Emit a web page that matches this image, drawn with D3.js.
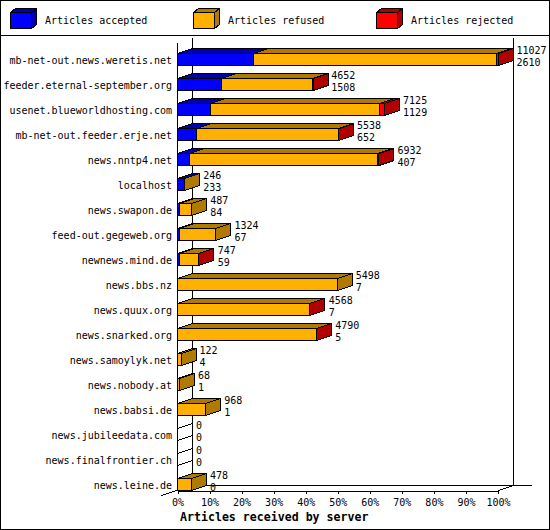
<!DOCTYPE html>
<html><head><meta charset="utf-8">
<script src="https://cdn.jsdelivr.net/npm/d3@7"></script>
<style>
body{margin:0;background:#fff}
svg{display:block}
text{font-family:"DejaVu Sans Mono","Liberation Mono",monospace;font-size:10px;fill:#000}
</style>
</head><body><div id="chart"></div>
<script>
// ---------- data ----------
const servers = [
  "mb-net-out.news.weretis.net","feeder.eternal-september.org","usenet.blueworldhosting.com",
  "mb-net-out.feeder.erje.net","news.nntp4.net","localhost","news.swapon.de","feed-out.gegeweb.org",
  "newnews.mind.de","news.bbs.nz","news.quux.org","news.snarked.org","news.samoylyk.net",
  "news.nobody.at","news.babsi.de","news.jubileedata.com","news.finalfrontier.ch","news.leine.de"
];
const totals   = [11027,4652,7125,5538,6932,246,487,1324,747,5498,4568,4790,122,68,968,0,0,478];
const accepted = [2610,1508,1129,652,407,233,84,67,59,7,7,5,4,1,1,0,0,0];
const refused  = [8357,3124,5806,4871,6475,13,403,1257,678,5491,4549,4775,118,67,967,0,0,478];
const rejected = [60,20,190,15,50,0,0,0,10,0,12,10,0,0,0,0,0,0];
const seriesNames  = ["Articles accepted","Articles refused","Articles rejected"];
const seriesColors = ["#0000ff","#ffb000","#ff0000"];
const seriesDark   = ["#0000b0","#b07a00","#b00000"];
const tickValues = [0,0.1,0.2,0.3,0.4,0.5,0.6,0.7,0.8,0.9,1];
const axisTitle = "Articles received by server";

// ---------- layout ----------
const W = 550, H = 530;
const DX = 15, DY = 5;
const svg = d3.select("#chart").append("svg")
  .attr("width", W).attr("height", H)
  .attr("shape-rendering", "crispEdges");

svg.append("rect").attr("x", 0.5).attr("y", 0.5).attr("width", W - 1).attr("height", H - 1)
  .attr("fill", "#fff").attr("stroke", "#000");
svg.append("line").attr("x1", 0).attr("x2", W).attr("y1", 35.5).attr("y2", 35.5).attr("stroke", "#000");

// legend
const leg = svg.append("g");
seriesNames.forEach((name, k) => {
  const fx = 10.5 + 183 * k, fy = 12.5, fw = 21, fh = 16, ldx = 5, ldy = 4;
  leg.append("polygon").attr("points", [[fx, fy], [fx + ldx, fy - ldy], [fx + fw + ldx, fy - ldy], [fx + fw, fy]].join(" "))
    .attr("fill", seriesDark[k]).attr("stroke", "#000");
  leg.append("polygon").attr("points", [[fx + fw, fy], [fx + fw + ldx, fy - ldy], [fx + fw + ldx, fy + fh - ldy], [fx + fw, fy + fh]].join(" "))
    .attr("fill", seriesDark[k]).attr("stroke", "#000");
  leg.append("rect").attr("x", fx).attr("y", fy).attr("width", fw).attr("height", fh)
    .attr("fill", seriesColors[k]).attr("stroke", "#000");
  leg.append("text").attr("x", fx + 34.5).attr("y", 24).text(name);
});

const maxTotal = d3.max(totals);
const x = d3.scaleLinear().domain([0, 1]).range([177, 497.5]);
const y = d3.scaleBand().domain(servers).range([53, 490]).paddingInner(0.52).paddingOuter(0);
const px = v => Math.round(v) + 0.5;

const x0 = px(x(0)), xEnd = px(x(1));
const floorY = 490.5, backFloorY = floorY - DY;

// walls / frame
const frame = svg.append("g").attr("stroke", "#000").attr("fill", "none");
frame.append("line").attr("x1", x0 + DX).attr("x2", x0 + DX).attr("y1", 38).attr("y2", backFloorY);
frame.append("line").attr("x1", xEnd + DX).attr("x2", xEnd + DX).attr("y1", 38).attr("y2", backFloorY);
frame.append("line").attr("x1", x0).attr("x2", x0).attr("y1", 43).attr("y2", floorY);
frame.append("line").attr("x1", x0 + DX).attr("x2", 532).attr("y1", backFloorY).attr("y2", backFloorY);
frame.append("line").attr("x1", x0 - 16).attr("y1", floorY + 5).attr("x2", x0 + DX).attr("y2", backFloorY);
frame.append("line").attr("x1", xEnd).attr("y1", floorY).attr("x2", xEnd + DX).attr("y2", backFloorY);

// x axis (front floor edge)
const axis = d3.axisBottom(x).tickValues(tickValues).tickFormat(d3.format(".0%"))
  .tickSize(3).tickSizeOuter(0).tickPadding(5.5);
const ax = svg.append("g").attr("transform", `translate(0.5,${floorY})`).call(axis);
ax.select(".domain").attr("stroke", "#000");
ax.selectAll(".tick line").attr("stroke", "#000");
ax.selectAll(".tick text").attr("font-family", null).attr("font-size", null).attr("fill", "#000");
ax.attr("font-family", null).attr("font-size", null);

// bars
const bars = svg.append("g");
servers.forEach((s, i) => {
  const top = Math.round(y(s)) + 0.5, bot = top + y.bandwidth();
  const vals = [accepted[i], refused[i], rejected[i]];
  if (totals[i] === 0) {
    bars.append("polygon").attr("points", [[x0, top], [x0 + DX, top - DY], [x0 + DX, bot - DY], [x0, bot]].join(" "))
      .attr("fill", "none").attr("stroke", "#000");
  }
  let cum = 0;
  vals.forEach((v, k) => {
    if (v <= 0) return;
    const a = px(x(cum / maxTotal)), b = x((cum + v) / maxTotal) < a + 1 ? a + Math.max(0, x((cum + v) / maxTotal) - x(cum / maxTotal)) : px(x((cum + v) / maxTotal));
    cum += v;
    bars.append("polygon").attr("points", [[a, top], [a + DX, top - DY], [b + DX, top - DY], [b, top]].join(" "))
      .attr("fill", seriesDark[k]).attr("stroke", "#000");
    bars.append("rect").attr("x", a).attr("y", top).attr("width", b - a).attr("height", bot - top)
      .attr("fill", seriesColors[k]).attr("stroke", "#000");
    bars.append("polygon").attr("points", [[b, top], [b + DX, top - DY], [b + DX, bot - DY], [b, bot]].join(" "))
      .attr("fill", seriesDark[k]).attr("stroke", "#000");
  });
  const lx = x(totals[i] / maxTotal) + DX + 4;
  bars.append("text").attr("x", lx).attr("y", top + 0.5).text(totals[i]);
  bars.append("text").attr("x", lx).attr("y", bot + 0.5).text(accepted[i]);
  svg.append("text").attr("x", 172).attr("y", top + 10.5).attr("text-anchor", "end").text(s);
});

svg.append("text").attr("x", 180).attr("y", 521)
  .style("font-weight", "bold").style("font-size", "11.6px").text(axisTitle);
</script>
</body></html>
